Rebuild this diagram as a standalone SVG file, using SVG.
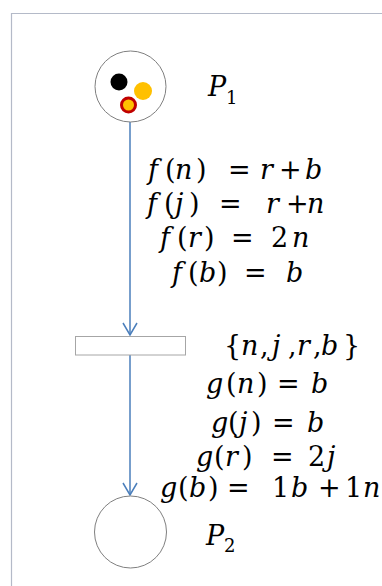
<svg xmlns="http://www.w3.org/2000/svg" width="382" height="586" viewBox="0 0 382 586">
<defs>
<style>
.m{font-family:"DejaVu Serif","Liberation Serif",serif;font-size:27px;fill:#000}
.i{font-style:italic}
.sub{font-family:"DejaVu Serif","Liberation Serif",serif;font-size:18px;fill:#000}
.place{fill:#fff;stroke:#7f7f7f;stroke-width:1}
.arc{stroke:#4a7ebb;stroke-width:1.5;fill:none}
</style>
<marker id="ah" viewBox="0 0 14 16" refX="13" refY="8" markerWidth="14" markerHeight="16" markerUnits="userSpaceOnUse" orient="auto">
<path d="M1,1 L13,8 L1,15" fill="none" stroke="#4a7ebb" stroke-width="1.5"/>
</marker>
</defs>
<rect width="382" height="586" fill="#fff"/>
<path d="M11.5,586 V13.5 H382" fill="none" stroke="#b4bac8" stroke-width="1.2"/>
<g id="connectors">
<line class="arc" x1="130" y1="122" x2="130" y2="335" style="marker-end:url(#ah)"/>
<line class="arc" x1="130" y1="355" x2="130" y2="495" style="marker-end:url(#ah)"/>
</g>
<g id="P1">
<circle class="place" cx="130.5" cy="86.5" r="35.5"/>
<circle cx="119" cy="82" r="8.5" fill="#000"/>
<circle cx="143" cy="91" r="9" fill="#ffc000"/>
<circle cx="128.5" cy="105" r="7" fill="#ffc000" stroke="#c00000" stroke-width="3"/>
<text class="m i" x="208" y="96">P</text><text class="sub" x="226" y="104">1</text>
</g>
<g id="T">
<rect x="75.5" y="336.5" width="110" height="18.5" fill="#fff" stroke="#a6a6a6" stroke-width="1"/>
</g>
<g id="P2">
<circle class="place" cx="130.5" cy="532" r="36"/>
<text class="m i" x="206" y="545">P</text><text class="sub" x="224" y="552">2</text>
</g>
<g id="f-labels">
<text class="m" y="179"><tspan class="i" x="148">f</tspan><tspan x="165">(</tspan><tspan class="i" x="175">n</tspan><tspan x="196">)</tspan><tspan x="228">=</tspan><tspan class="i" x="260">r</tspan><tspan x="279">+</tspan><tspan class="i" x="305">b</tspan></text>
<text class="m" y="213"><tspan class="i" x="147">f</tspan><tspan x="164">(</tspan><tspan class="i" x="175">j</tspan><tspan x="189">)</tspan><tspan x="219">=</tspan><tspan class="i" x="266">r</tspan><tspan x="286">+</tspan><tspan class="i" x="307">n</tspan></text>
<text class="m" y="247"><tspan class="i" x="160">f</tspan><tspan x="177">(</tspan><tspan class="i" x="188">r</tspan><tspan x="204">)</tspan><tspan x="231">=</tspan><tspan x="271">2</tspan><tspan class="i" x="292">n</tspan></text>
<text class="m" y="282"><tspan class="i" x="172">f</tspan><tspan x="188">(</tspan><tspan class="i" x="199">b</tspan><tspan x="217">)</tspan><tspan x="244">=</tspan><tspan class="i" x="286">b</tspan></text>
</g>
<g id="g-labels">
<text class="m" y="355"><tspan x="224">{</tspan><tspan class="i" x="241">n</tspan><tspan x="260">,</tspan><tspan class="i" x="272">j</tspan><tspan x="288">,</tspan><tspan class="i" x="297">r</tspan><tspan x="313">,</tspan><tspan class="i" x="321">b</tspan><tspan x="343">}</tspan></text>
<text class="m" y="393"><tspan class="i" x="206">g</tspan><tspan x="226">(</tspan><tspan class="i" x="237">n</tspan><tspan x="257">)</tspan><tspan x="277">=</tspan><tspan class="i" x="311">b</tspan></text>
<text class="m" y="432"><tspan class="i" x="211">g</tspan><tspan x="228">(</tspan><tspan class="i" x="239">j</tspan><tspan x="251">)</tspan><tspan x="272">=</tspan><tspan x="307" class="i">b</tspan></text>
<text class="m" y="466"><tspan class="i" x="196">g</tspan><tspan x="214">(</tspan><tspan class="i" x="225">r</tspan><tspan x="242">)</tspan><tspan x="271">=</tspan><tspan x="308">2</tspan><tspan class="i" x="327">j</tspan></text>
<text class="m" y="497"><tspan class="i" x="160">g</tspan><tspan x="178">(</tspan><tspan class="i" x="189">b</tspan><tspan x="208">)</tspan><tspan x="227">=</tspan><tspan x="272">1</tspan><tspan class="i" x="291">b</tspan><tspan x="318">+</tspan><tspan x="345">1</tspan><tspan class="i" x="363">n</tspan></text>
</g>
</svg>
